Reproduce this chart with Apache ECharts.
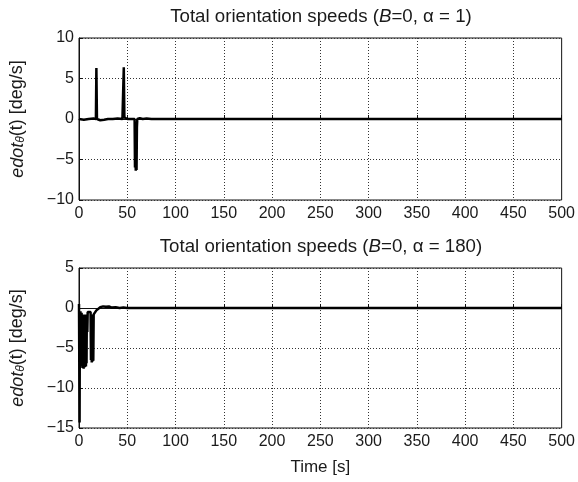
<!DOCTYPE html>
<html><head><meta charset="utf-8">
<script src="https://cdn.jsdelivr.net/npm/echarts@6/dist/echarts.min.js"></script>
<style>html,body{margin:0;padding:0;background:#fff}#c{width:578px;height:482px}</style>
</head><body><div id="c"></div>
<script>
// Top panel (alpha = 1): time [s] and speed [deg/s]
const topTime = [0,5,10,15,17.5,18,18.6,19,22,26,30,35,40,45,45.8,46.4,47,48,50,55,57.6,58,58.4,58.8,59.2,59.6,60,60.4,61,63,66,70,75,80,500];
const topSpeed = [0,-0.1,0,0.05,0,6.3,0,0,-0.15,-0.1,0,0,0.05,0,0,6.4,0.2,0,0,0,0,-6.0,-1,-6.4,-1.5,-6.3,-1,0,-0.2,0.1,0,0.05,0,0,0];
// Bottom panel (alpha = 180)
const botTime = [0,0.3,0.6,0.9,1.2,1.5,1.8,2.1,2.4,2.7,3.0,3.3,3.6,3.9,4.2,4.5,4.8,5.1,5.4,5.7,6.0,6.3,6.6,6.9,7.2,7.5,7.8,8.1,8.6,9,10,11,12,12.4,12.8,13.2,13.6,14,14.4,14.8,15.2,16,17,18,20,22,25,28,31,34,38,42,46,50,500];
const botSpeed = [0.5,0.3,-14.3,-1,-6.8,-0.4,-7.2,-0.8,-7.0,-0.6,-7.3,-1,-7.5,-0.8,-7.3,-1,-7.6,-0.9,-7.2,-1.2,-7.4,-0.8,-7.1,-1.0,-7.3,-1.1,-6.9,-0.8,-3,-0.5,-0.3,-0.6,-0.5,-6.5,-0.9,-6.8,-1.0,-6.7,-0.8,-6.6,-0.8,-0.6,-0.9,-0.3,-0.1,0.1,0.2,0.15,0.2,0.05,0.1,0,0.05,0,0];
const xTicks = {min:0, max:500, interval:50};
const topY = {min:-10, max:10, interval:5};
const botY = {min:-15, max:5, interval:5};

const font = 'Liberation Sans, Arial, sans-serif';
const txt = '#1a1a1a';
function pairs(t, v){ return t.map((x,i)=>[x, v[i]]); }
function xAxis(idx, withName){
  return {gridIndex:idx, type:'value', min:xTicks.min, max:xTicks.max, interval:xTicks.interval,
    axisLine:{lineStyle:{color:'#111', width:1}}, axisTick:{inside:true, length:4, lineStyle:{color:'#111'}},
    axisLabel:{color:txt, fontSize:16, fontFamily:font, margin:6},
    splitLine:{show:true, lineStyle:{type:[1,2], color:'#333', width:1}},
    name: withName ? 'Time [s]' : '', nameLocation:'middle', nameGap:31,
    nameTextStyle:{color:txt, fontSize:17, fontFamily:font}};
}
function yAxis(idx, r){
  return {gridIndex:idx, type:'value', min:r.min, max:r.max, interval:r.interval,
    axisLine:{lineStyle:{color:'#111', width:1}}, axisTick:{inside:true, length:4, lineStyle:{color:'#111'}},
    axisLabel:{color:txt, fontSize:16, fontFamily:font, margin:5, formatter:v=>String(v).replace('-','\u2212')},
    splitLine:{show:true, lineStyle:{type:[1,2], color:'#333', width:1}},
    name:'{i|edot}{s|\u03b8}{n|(t) [deg/s]}', nameLocation:'middle', nameGap:52, nameRotate:90,
    nameTextStyle:{color:txt, fontSize:18, fontFamily:font,
      rich:{i:{fontStyle:'italic', fontSize:18, fontFamily:font, color:txt},
            s:{fontStyle:'italic', fontSize:12, fontFamily:font, color:txt, verticalAlign:'bottom', padding:[7,0,0,0]},
            n:{fontSize:18, fontFamily:font, color:txt}}}};
}
function title(top, a){
  return {text:'{n|Total orientation speeds (}{i|B}{n|=0, \u03b1 = '+a+')}', left:321, textAlign:'center', top:top, padding:0,
    textStyle:{fontWeight:'normal', fontSize:18.7, fontFamily:font, color:txt,
      rich:{n:{fontSize:18.7, fontWeight:'normal', fontFamily:font, color:txt},
            i:{fontSize:18.7, fontWeight:'normal', fontFamily:font, fontStyle:'italic', color:txt}}}};
}
const chart = echarts.init(document.getElementById('c'), null, {renderer:'canvas'});
chart.setOption({
  backgroundColor:'#fff', animation:false,
  title:[title(7,'1'), title(237,'180')],
  grid:[{left:79, top:38, width:484, height:162, show:true, borderColor:'#111', borderWidth:1},
        {left:79, top:268, width:484, height:160, show:true, borderColor:'#111', borderWidth:1}],
  xAxis:[xAxis(0,false), xAxis(1,true)],
  yAxis:[yAxis(0, topY), yAxis(1, botY)],
  series:[
    {type:'line', xAxisIndex:0, yAxisIndex:0, data:pairs(topTime, topSpeed), showSymbol:false, sampling:null,
     lineStyle:{color:'#000', width:2.5}},
    {type:'line', xAxisIndex:1, yAxisIndex:1, data:pairs(botTime, botSpeed), showSymbol:false, sampling:null,
     lineStyle:{color:'#000', width:2.5}}
  ]
});
</script></body></html>
